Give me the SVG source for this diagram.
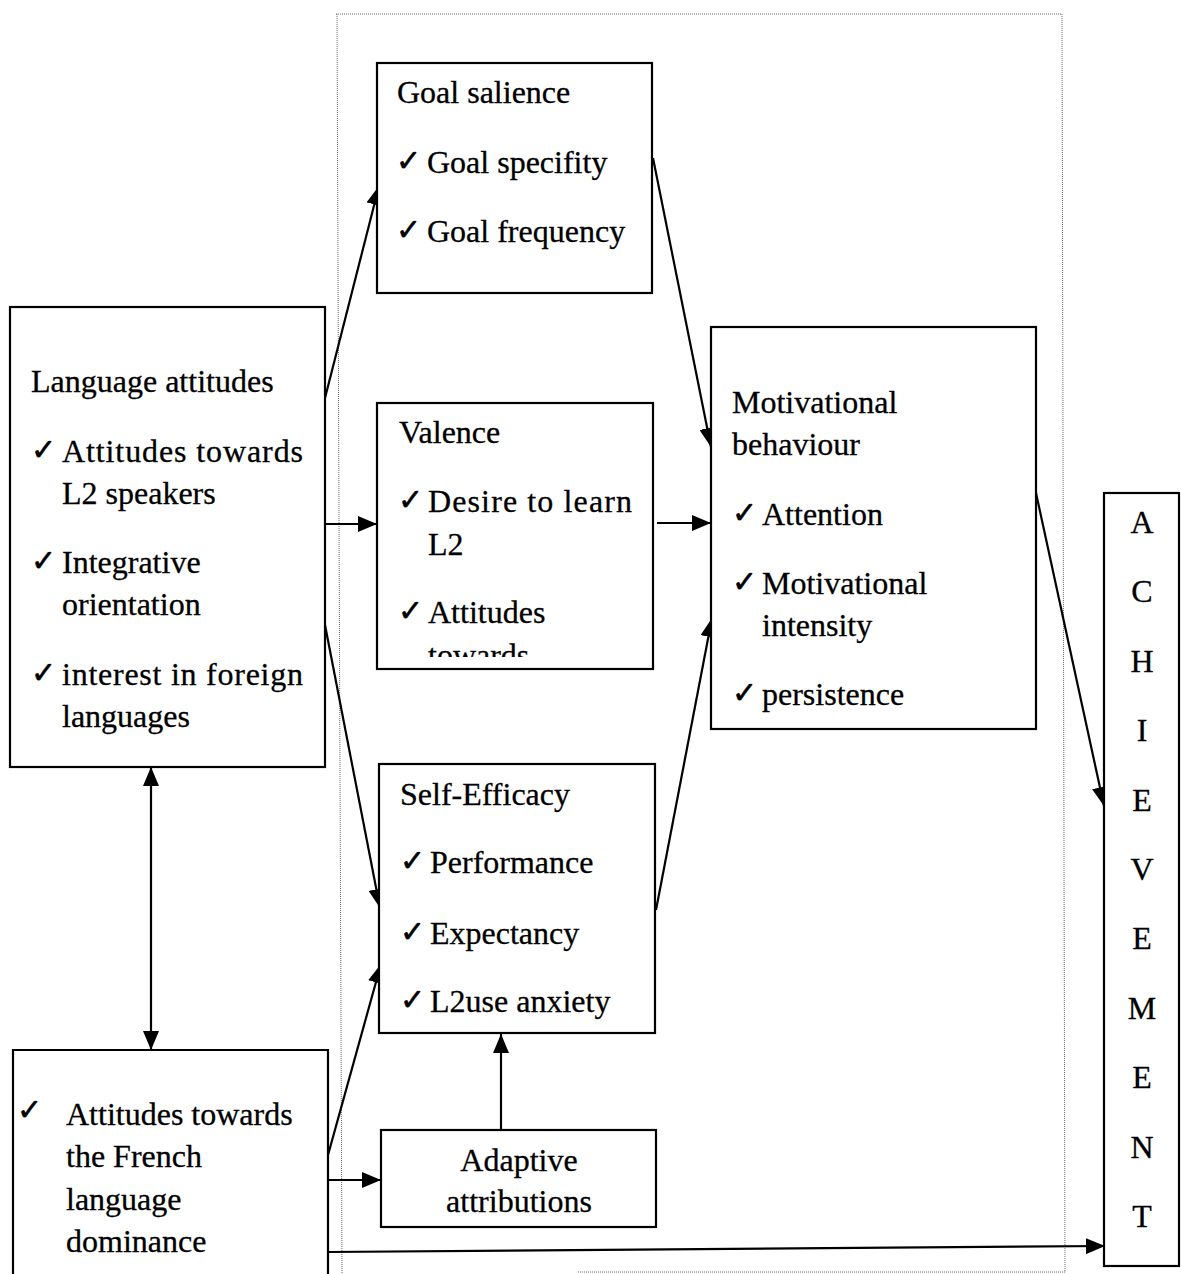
<svg xmlns="http://www.w3.org/2000/svg" width="1181" height="1274" viewBox="0 0 1181 1274">
  <style>
    .box { fill: #fff; stroke: #000; stroke-width: 2.2; }
    .t { font-family: "Liberation Serif", "Times New Roman", serif; font-size: 32px; fill: #000; stroke: #000; stroke-width: 0.3; }
    .ck { font-family: "DejaVu Sans", sans-serif; font-size: 30px; fill: #000; stroke: #000; stroke-width: 0.6; }
    .c { text-anchor: middle; }
    .edge { fill: none; stroke: #000; stroke-width: 2.2; }
    .dots { fill: none; stroke: #666; stroke-width: 1; stroke-dasharray: 1 1; }
  </style>
  <defs>
    <marker id="arrow" viewBox="0 0 19 16" refX="19" refY="8" markerWidth="19" markerHeight="16" markerUnits="userSpaceOnUse" orient="auto-start-reverse">
      <path d="M0,0 L19,8 L0,16 z" fill="#000"/>
    </marker>
    <clipPath id="valenceClip">
      <rect x="377" y="403" width="276" height="254"/>
    </clipPath>
  </defs>

  <rect width="1181" height="1274" fill="#fff"/>

  <!-- dotted frame around the mediating constructs -->
  <path class="dots" d="M337,14 L342,1274 M336,14 L1062,14 L1065,1272 L577,1272"/>

  <!-- connectors -->
  <g id="connectors">
    <line class="edge" x1="325" y1="398" x2="379" y2="186" marker-end="url(#arrow)"/>
    <line class="edge" x1="325" y1="524" x2="377" y2="524" marker-end="url(#arrow)"/>
    <line class="edge" x1="325" y1="625" x2="380" y2="908" marker-end="url(#arrow)"/>
    <line class="edge" x1="328" y1="1155" x2="381" y2="964" marker-end="url(#arrow)"/>
    <line class="edge" x1="328" y1="1180" x2="381" y2="1180" marker-end="url(#arrow)"/>
    <line class="edge" x1="328" y1="1252" x2="1105" y2="1246" marker-end="url(#arrow)"/>
    <line class="edge" x1="501" y1="1130" x2="501" y2="1034" marker-end="url(#arrow)"/>
    <line class="edge" x1="151" y1="767" x2="151" y2="1050" marker-start="url(#arrow)" marker-end="url(#arrow)"/>
    <line class="edge" x1="653" y1="158" x2="711" y2="447" marker-end="url(#arrow)"/>
    <line class="edge" x1="657" y1="523" x2="711" y2="523" marker-end="url(#arrow)"/>
    <line class="edge" x1="656" y1="910" x2="712" y2="618" marker-end="url(#arrow)"/>
    <line class="edge" x1="1036" y1="493" x2="1104" y2="806" marker-end="url(#arrow)"/>
  </g>

  <!-- Language attitudes -->
  <g id="language-attitudes">
    <rect class="box" x="10" y="307" width="315" height="460"/>
    <text class="t" x="31" y="392">Language attitudes</text>
    <text class="ck" x="31" y="460">✓</text>
    <text class="t" x="62" y="462" textLength="241" lengthAdjust="spacing">Attitudes towards</text>
    <text class="t" x="62" y="504">L2 speakers</text>
    <text class="ck" x="31" y="571">✓</text>
    <text class="t" x="62" y="573">Integrative</text>
    <text class="t" x="62" y="615">orientation</text>
    <text class="ck" x="31" y="683">✓</text>
    <text class="t" x="62" y="685" textLength="241" lengthAdjust="spacing">interest in foreign</text>
    <text class="t" x="62" y="727">languages</text>
  </g>

  <!-- French language dominance -->
  <g id="french-dominance">
    <path class="box" d="M13,1276 L13,1050 L328,1050 L328,1276"/>
    <text class="ck" x="17" y="1120">✓</text>
    <text class="t" x="66" y="1125">Attitudes towards</text>
    <text class="t" x="66" y="1167">the French</text>
    <text class="t" x="66" y="1210">language</text>
    <text class="t" x="66" y="1252">dominance</text>
  </g>

  <!-- Goal salience -->
  <g id="goal-salience">
    <rect class="box" x="377" y="63" width="275" height="230"/>
    <text class="t" x="397" y="103">Goal salience</text>
    <text class="ck" x="396" y="171">✓</text>
    <text class="t" x="427" y="173">Goal specifity</text>
    <text class="ck" x="396" y="240">✓</text>
    <text class="t" x="427" y="242">Goal frequency</text>
  </g>

  <!-- Valence -->
  <g id="valence">
    <rect class="box" x="377" y="403" width="276" height="266"/>
    <g clip-path="url(#valenceClip)">
      <text class="t" x="399" y="443">Valence</text>
      <text class="ck" x="398" y="510">✓</text>
      <text class="t" x="428" y="512" textLength="204" lengthAdjust="spacing">Desire to learn</text>
      <text class="t" x="428" y="555">L2</text>
      <text class="ck" x="398" y="621">✓</text>
      <text class="t" x="428" y="623">Attitudes</text>
      <text class="t" x="428" y="666">towards</text>
    </g>
  </g>

  <!-- Self-Efficacy -->
  <g id="self-efficacy">
    <rect class="box" x="379" y="764" width="276" height="269"/>
    <text class="t" x="400" y="805">Self-Efficacy</text>
    <text class="ck" x="400" y="871">✓</text>
    <text class="t" x="430" y="873">Performance</text>
    <text class="ck" x="400" y="942">✓</text>
    <text class="t" x="430" y="944">Expectancy</text>
    <text class="ck" x="400" y="1010">✓</text>
    <text class="t" x="430" y="1012">L2use anxiety</text>
  </g>

  <!-- Adaptive attributions -->
  <g id="adaptive-attributions">
    <rect class="box" x="381" y="1130" width="275" height="97"/>
    <text class="t c" x="519" y="1171">Adaptive</text>
    <text class="t c" x="519" y="1212">attributions</text>
  </g>

  <!-- Motivational behaviour -->
  <g id="motivational-behaviour">
    <rect class="box" x="711" y="327" width="325" height="402"/>
    <text class="t" x="732" y="413">Motivational</text>
    <text class="t" x="732" y="455">behaviour</text>
    <text class="ck" x="732" y="523">✓</text>
    <text class="t" x="762" y="525">Attention</text>
    <text class="ck" x="732" y="592">✓</text>
    <text class="t" x="762" y="594">Motivational</text>
    <text class="t" x="762" y="636">intensity</text>
    <text class="ck" x="732" y="703">✓</text>
    <text class="t" x="762" y="705">persistence</text>
  </g>

  <!-- Achievement -->
  <g id="achievement">
    <rect class="box" x="1104" y="493" width="75" height="773"/>
    <text class="t c" x="1142" y="533">A</text>
    <text class="t c" x="1142" y="602">C</text>
    <text class="t c" x="1142" y="672">H</text>
    <text class="t c" x="1142" y="741">I</text>
    <text class="t c" x="1142" y="811">E</text>
    <text class="t c" x="1142" y="880">V</text>
    <text class="t c" x="1142" y="949">E</text>
    <text class="t c" x="1142" y="1019">M</text>
    <text class="t c" x="1142" y="1088">E</text>
    <text class="t c" x="1142" y="1158">N</text>
    <text class="t c" x="1142" y="1227">T</text>
  </g>
</svg>
